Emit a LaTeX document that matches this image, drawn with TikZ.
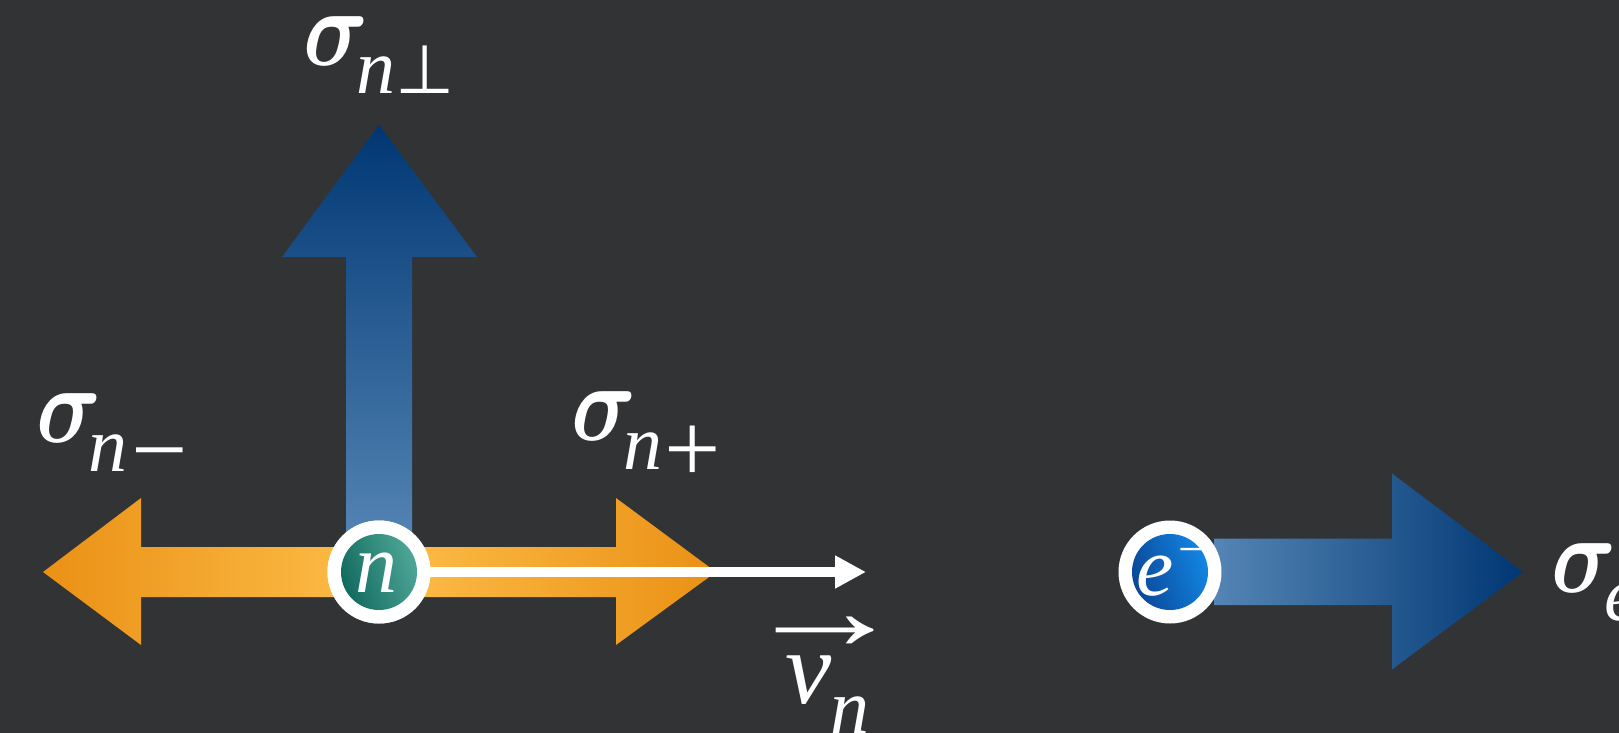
\documentclass[tikz,border=0pt]{standalone}
\usepackage{fontspec}
\setmainfont{Liberation Serif}
\newfontfamily\symfont{DejaVu Sans}
\usetikzlibrary{arrows.meta}
\definecolor{bgc}{HTML}{323335}
\definecolor{bluedark}{HTML}{003773}
\definecolor{bluelight}{HTML}{5585B5}
\definecolor{orgedge}{HTML}{EA9115}
\definecolor{orgmid}{HTML}{FDBE4A}
\definecolor{tealdark}{HTML}{126B5E}
\definecolor{teallight}{HTML}{4EA698}
\definecolor{edark}{HTML}{0A4898}
\definecolor{elight}{HTML}{1286E3}
\newcommand{\fs}[1]{\fontsize{#1}{#1}\selectfont}
\newcommand{\sg}{\scalebox{4.5}[5.5]{\fs{10}\boldmath$\sigma$}}
\tikzset{
  x=0.5pt,y=-0.5pt,
  lbl/.style={text=white,inner sep=0pt,outer sep=0pt,anchor=base west},
  vsym/.style={lbl,font=\fs{52}\itshape},
  subs/.style={lbl,font=\fs{39}\itshape},
  subsym/.style={lbl,font=\fs{50}},
  ring/.style={circle,fill=white,draw=none,minimum size=51.5pt,inner sep=0pt},
  core/.style={circle,draw=none,minimum size=38pt,inner sep=0pt},
}
\begin{document}
\begin{tikzpicture}
\useasboundingbox (0,0) rectangle (1619,733);
\fill[bgc] (0,0) rectangle (1619,733);
% blue vertical arrow
\shade[top color=bluedark,bottom color=bluelight]
  (346,545) -- (346,257) -- (282,257) -- (379,125) -- (477,257) -- (412,257) -- (412,545) -- cycle;
% orange double arrow
\shade[left color=orgedge,right color=orgedge,middle color=orgmid]
  (43,572) -- (141,498) -- (141,547) -- (616,547) -- (616,498) -- (716,572) -- (616,645) -- (616,597) -- (141,597) -- (141,645) -- cycle;
% blue horizontal arrow
\shade[left color=bluelight,right color=bluedark]
  (1214,538.5) -- (1392,538.5) -- (1392,473.5) -- (1523,572) -- (1392,669.5) -- (1392,605) -- (1214,605) -- cycle;
% particles
\node[ring] (nring) at (379,572) {};
\coordinate (vtip) at (866,572);
\draw[white,line width=5.4pt,-{Triangle[length=15.5pt,width=15.5pt]}] (nring.center) -- (vtip);
\node[ring] (nringtop) at (379,572) {};
\node[core,left color=tealdark,right color=teallight,shading angle=110] (ncore) at (379,572) {};
\node[lbl,font=\fs{42}\itshape] (nlab) at (355,592) {n};
\node[ring] (ering) at (1170,572) {};
\node[core,left color=edark,right color=elight,shading angle=110] (ecore) at (1170,572) {};
\node[lbl,font=\fs{42}\itshape] (elab) at (1136,595) {e};
\node[lbl,font=\fs{24}] (eminus) at (1178,565) {−};
% labels
\node[lbl] (s1) at (303,66) {\sg};
\node[subs] (s1n) at (356,94) {n};
\node[lbl,font=\fs{34}\symfont] (s1p) at (395,94) {⊥};
\node[lbl] (s2) at (36,442) {\sg};
\node[subs] (s2n) at (88,471) {n};
\node[subsym] (s2m) at (131,483) {−};
\node[lbl] (s3) at (571,440) {\sg};
\node[subs] (s3n) at (623,469) {n};
\node[subsym] (s3p) at (664,482) {+};
\node[lbl] (s4) at (1551,592) {\sg};
\node[subs] (s4e) at (1604,620) {e};
\node[lbl] (varrow) at (742,649) {\scalebox{1.65}[1.15]{\fs{50}→}};
\node[vsym] (vv) at (785,703) {v};
\node[subs] (vn) at (830,733) {n};
\end{tikzpicture}
\end{document}
